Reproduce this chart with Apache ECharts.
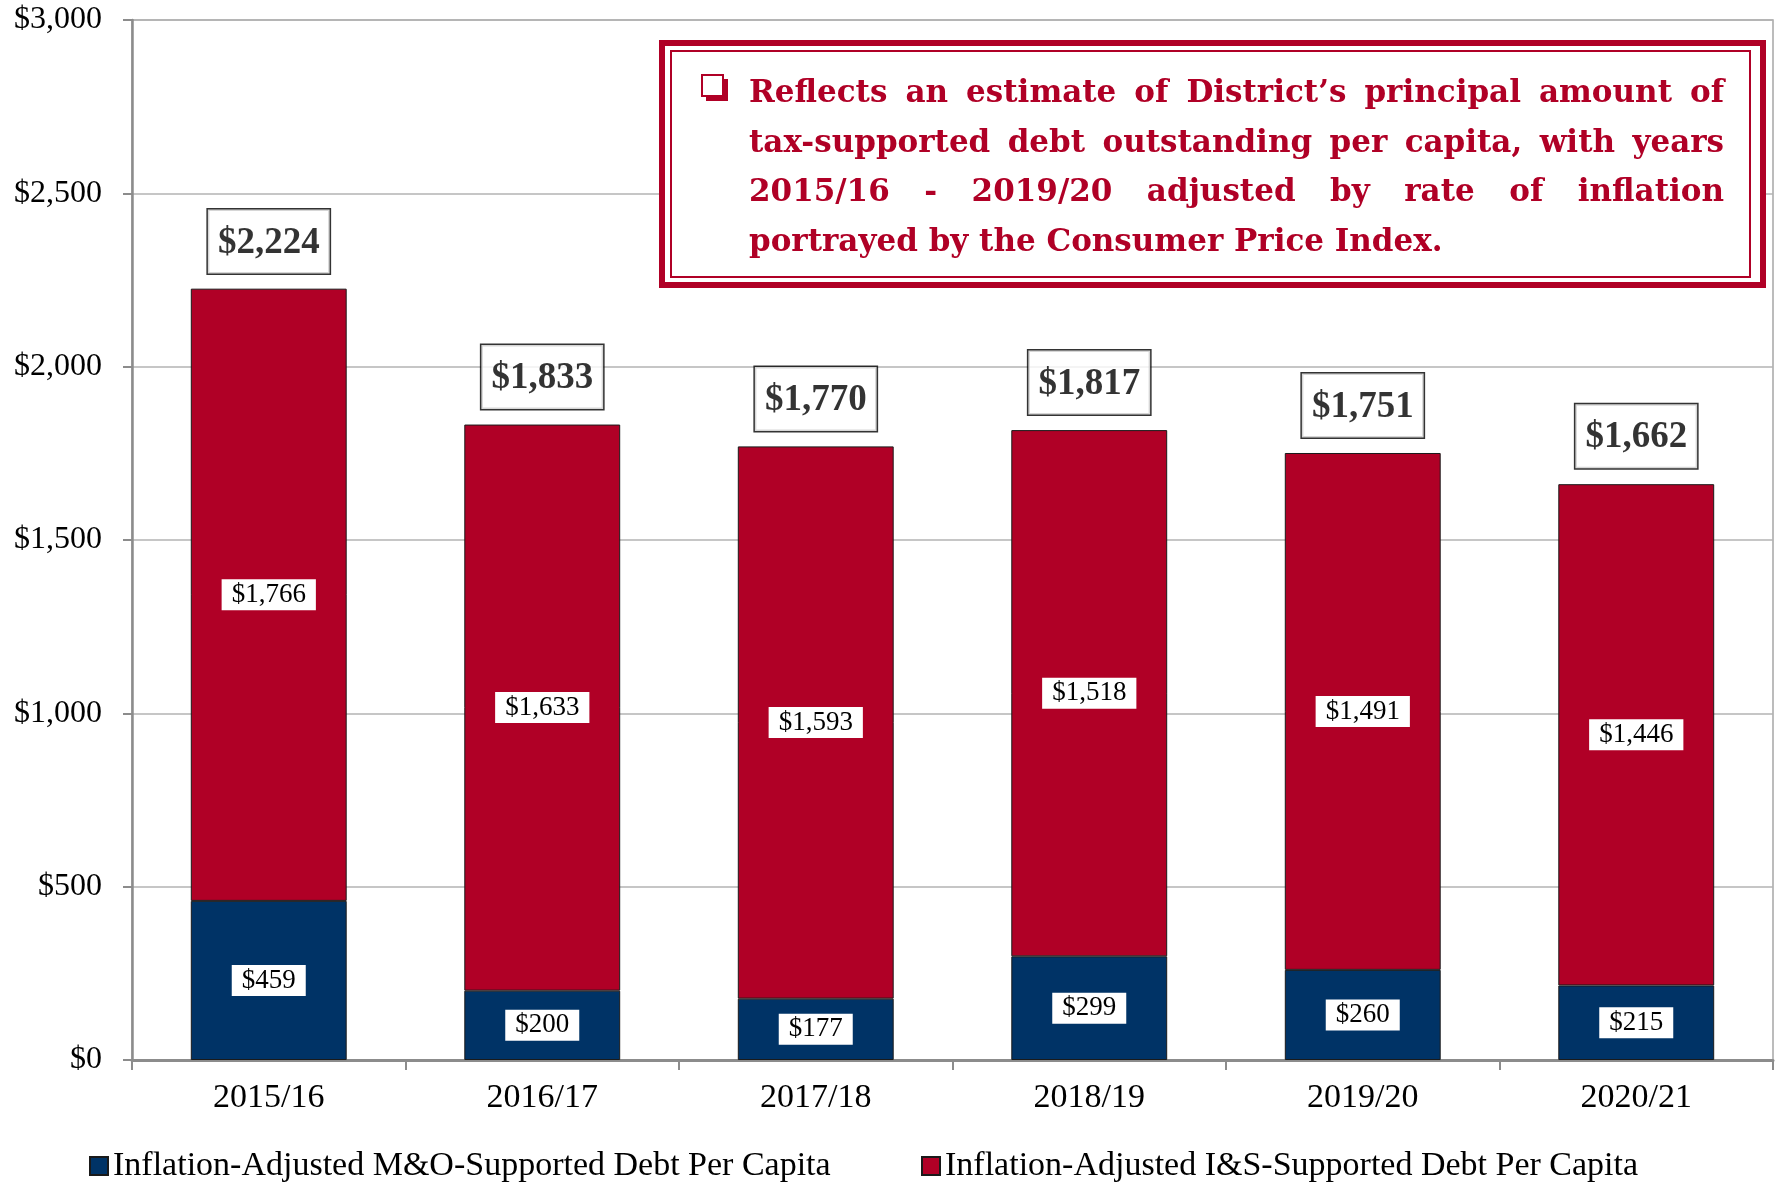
<!DOCTYPE html>
<html>
<head>
<meta charset="utf-8">
<title>Inflation-Adjusted Debt Per Capita</title>
<script src="https://cdn.jsdelivr.net/npm/echarts@6/dist/echarts.min.js"></script>
<style>
  html, body { margin: 0; padding: 0; background: #fff; }
  #chart { width: 1775px; height: 1192px; }
</style>
</head>
<body>
<div id="chart"></div>
<script>
const years = ["2015/16", "2016/17", "2017/18", "2018/19", "2019/20", "2020/21"];
const moDebt = [459, 200, 177, 299, 260, 215];
const isDebt = [1766, 1633, 1593, 1518, 1491, 1446];
const totalDebt = [2224, 1833, 1770, 1817, 1751, 1662];
const seriesNames = [
  "Inflation-Adjusted M&O-Supported Debt Per Capita",
  "Inflation-Adjusted I&S-Supported Debt Per Capita"
];
const noteLines = [
  "Reflects an estimate of District\u2019s principal amount of",
  "tax-supported debt outstanding per capita, with years",
  "2015/16 - 2019/20 adjusted by rate of inflation",
  "portrayed by the Consumer Price Index."
];

const BLUE = "#003366";
const RED = "#B00026";
const FONT = "Liberation Serif";

const money = (v) => "$" + Number(v).toLocaleString("en-US");

// justified note text: one graphic text per word
const noteFont = "bold 31px \"DejaVu Serif\"";
const ctx = document.createElement("canvas").getContext("2d");
ctx.font = noteFont;
const noteLeft = 749, noteRight = 1724, noteTop = 94, noteStep = 49.5;

const noteWords = [];
noteLines.forEach((line, i) => {
  const words = line.split(" ");
  const widths = words.map(w => ctx.measureText(w).width);
  const sum = widths.reduce((a, b) => a + b, 0);
  const last = i === noteLines.length - 1;
  let gap = last ? ctx.measureText(" ").width : (noteRight - noteLeft - sum) / (words.length - 1);
  let x = noteLeft;
  words.forEach((w, k) => {
    noteWords.push({
      type: "text",
      x: x,
      y: noteTop + i * noteStep,
      z: 20,
      style: {
        text: w,
        font: noteFont,
        fill: RED,
        verticalAlign: "middle"
      }
    });
    x += widths[k] + gap;
  });
});

const chart = echarts.init(document.getElementById("chart"), null, { renderer: "canvas" });

const insideLabel = {
  show: true,
  position: "inside",
  formatter: (p) => money(p.value),
  color: "#000",
  fontFamily: FONT,
  fontSize: 27,
  backgroundColor: "#fff",
  padding: [3, 10, 1, 10]
};

const legendText = { fontFamily: FONT, fontSize: 34, color: "#000" };

const option = {
  animation: false,
  backgroundColor: "#fff",
  textStyle: { fontFamily: FONT },
  grid: { left: 132, right: 2, top: 20, bottom: 132, containLabel: false, outerBoundsMode: "none",
    show: true, borderColor: "#a6a6a6", borderWidth: 1.5 },
  legend: [
    {
      data: [seriesNames[0]],
      left: 84, top: 1144,
      icon: "rect", itemWidth: 18, itemHeight: 18,
      textStyle: legendText
    },
    {
      data: [seriesNames[1]],
      left: 916, top: 1144,
      icon: "rect", itemWidth: 18, itemHeight: 18,
      textStyle: legendText
    }
  ],
  xAxis: {
    type: "category",
    data: years,
    axisLine: { lineStyle: { color: "#8c8c8c", width: 3 } },
    axisTick: { show: true, alignWithLabel: false, length: 10, lineStyle: { color: "#8c8c8c", width: 2 } },
    axisLabel: { color: "#000", fontFamily: FONT, fontSize: 34, margin: 21 },
    splitLine: { show: false }
  },
  yAxis: {
    type: "value",
    min: 0,
    max: 3000,
    interval: 500,
    axisLine: { show: true, lineStyle: { color: "#8c8c8c", width: 2.5 } },
    axisTick: { show: true, length: 9, lineStyle: { color: "#8c8c8c", width: 2 } },
    axisLabel: { color: "#000", fontFamily: FONT, fontSize: 32, margin: 30, formatter: money },
    splitLine: { show: true, lineStyle: { color: "#b3b3b3", width: 1.5 } }
  },
  series: [
    {
      name: seriesNames[0],
      type: "bar",
      stack: "debt",
      barWidth: "57%",
      data: moDebt,
      itemStyle: { color: BLUE, borderColor: "#1a1a1a", borderWidth: 1 },
      label: insideLabel
    },
    {
      name: seriesNames[1],
      type: "bar",
      stack: "debt",
      data: isDebt,
      itemStyle: { color: RED, borderColor: "#1a1a1a", borderWidth: 1 },
      label: insideLabel
    },
    {
      name: "Total",
      type: "scatter",
      data: totalDebt,
      symbolSize: 1,
      itemStyle: { color: "rgba(0,0,0,0)" },
      z: 10,
      label: {
        show: true,
        position: "top",
        distance: 15,
        formatter: (p) => money(p.value),
        color: "#000",
        fontFamily: FONT,
        fontSize: 37,
        fontWeight: "bold",
        backgroundColor: "#fff",
        borderColor: "#000",
        borderWidth: 1.5,
        padding: [15, 10, 12, 10]
      }
    }
  ],
  graphic: [
    {
      type: "rect",
      z: 15,
      shape: { x: 662, y: 43, width: 1101, height: 242 },
      style: { fill: "#fff", stroke: RED, lineWidth: 6 }
    },
    {
      type: "rect",
      z: 16,
      shape: { x: 671, y: 51, width: 1079, height: 226 },
      style: { fill: "none", stroke: RED, lineWidth: 2 }
    },
    // checkbox bullet
    {
      type: "rect",
      z: 17,
      shape: { x: 706, y: 79, width: 22, height: 22 },
      style: { fill: RED }
    },
    {
      type: "rect",
      z: 18,
      shape: { x: 702, y: 75, width: 21, height: 21 },
      style: { fill: "#fff", stroke: RED, lineWidth: 2 }
    }
  ].concat(noteWords)
};

chart.setOption(option);
</script>
</body>
</html>
